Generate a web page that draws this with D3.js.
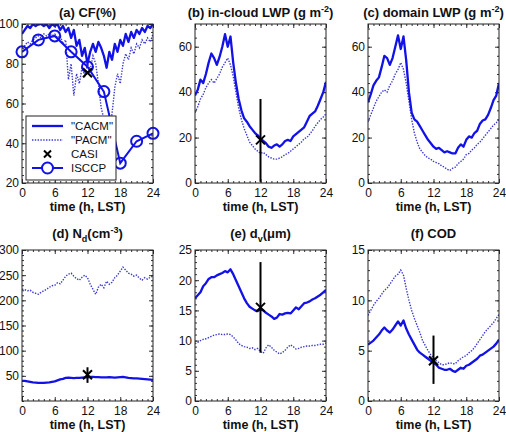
<!DOCTYPE html>
<html>
<head>
<meta charset="utf-8">
<script src="https://cdn.jsdelivr.net/npm/d3@7"></script>
<style>
  body { margin: 0; background: #fff; }
  svg text { font-family: Arial, "Liberation Sans", sans-serif; fill: #111; }
</style>
</head>
<body>
<svg id="chart" width="506" height="432"></svg>
<script>
"use strict";

// time axis (h, LST), every half hour
const hours = [0,0.5,1,1.5,2,2.5,3,3.5,4,4.5,5,5.5,6,6.5,7,7.5,8,8.5,9,9.5,10,10.5,11,11.5,12,
               12.5,13,13.5,14,14.5,15,15.5,16,16.5,17,17.5,18,18.5,19,19.5,20,20.5,21,21.5,22,22.5,23,23.5,24];
const xTicks = [0, 6, 12, 18, 24];

// (a) CF (%)
const cfCACM = [95,97,99,98,100,99,100,100,99,100,98,100,99,100,97,99,96,98,93,97,89,92,84,88,80,
                86,90,86,91,88,84,78,86,82,90,86,92,89,95,91,96,93,97,95,98,96,99,98,100];
const cfPACM = [88,89,91,90,92,93,94,93,95,94,95,94,95,93,94,90,92,72,80,64,75,70,78,74,80,
                77,84,80,70,58,52,48,45,55,68,75,70,80,85,82,88,85,90,88,92,90,93,91,95];
const isccpHours = [0, 3, 6, 9, 12, 15, 18, 21, 24];
const cfISCCP = [86, 92, 94, 86, 78.5, 66, 30, 41, 45];

// (b) in-cloud LWP (g m-2)
const lwpCACM = [38.5,41,45.5,44,48,53,57,55,52,55.5,60,65.5,60,64.5,53,44,37,32,28.5,27,25,23.5,22,21,19.5,
                 18.5,17.5,16,15.5,16.5,17,16,17,18.5,19,18.5,20.5,21.5,22.5,23.5,24.5,27,29.5,30.5,31.5,34,37,40,44.5];
const lwpPACM = [31,33.5,37,39,42,44,45.5,44,46,48,51,53,55,52,47,40,33,28,24,21,18,16.5,15,14,13,
                 13.5,12.5,11.5,11,10.5,10.5,11,11.5,12.5,13,14,15,16,17,18,19.5,20,21.5,23,25,26.5,28,29,30.5];

// (c) domain LWP (g m-2)
const dlwpCACM = [35.5,39,43,45,46.5,51,56,55,52,55,60,65,59,64.5,54,40,31,28,27,25,23,21,19,17.5,16,
                  15,15.5,14.5,13.5,14,13.5,13,13,15.5,17,16,19,20.5,20,22,23,26,27.5,28,30,33,36.5,38.5,44];
const dlwpPACM = [27,30,33,36,38,40,41,40,43,45,48,50,53,50,44,36,28,22,18,15,13.5,12,11,10.5,9.5,
                  9,8.5,7.5,7,6,5.5,6.5,7,8.5,9.5,10.5,12.5,13,14.5,15.5,17,18,19.5,21,22.5,24,25.5,26.5,28];

// (d) Nd (cm-3)
const ndCACM = [40,40,39,38,37,36.5,36,36,36,36.5,37,38,39,41,43,44,46,46.5,46,45.5,46,46,46.5,47,47,
                48,48,47.5,47.5,47,47,47,47.5,47,46.5,47,47.5,48,47,46,45.5,45,45,44.5,44,43.5,43,42.5,42];
const ndPACM = [222,221,219,220,216,214,212,216,219,222,226,229,230,235,233,240,248,252,254,248,243,240,246,250,245,
                232,222,212,226,232,225,238,232,236,245,250,258,266,260,254,252,248,250,244,240,245,242,246,248];

// (e) dv (um)
const dvCACM = [17,17.5,18,19,19.5,20.2,20.5,20.5,20.8,21,21.2,21.5,21.3,21.8,21,20,19,18,17,16.2,15.6,15.3,15,14.9,15.2,
                15,14.6,14.3,14,13.6,13.8,14.4,14.3,14.5,14.6,14.5,15,15.5,15.2,15.7,16.2,16.3,16.5,16.8,17,17.3,17.6,18,18.4];
const dvPACM = [9.5,9.7,10,10.2,10.3,10.5,10.7,10.9,11,11.1,11,11,11.1,11,10.6,10.1,9.5,9.2,9,8.9,8.7,8.8,8.5,8.7,8.2,
                7.9,8.8,9.3,8.9,8.4,8.1,7.8,8,8.4,8.9,9.3,9,8.6,8.7,8.9,9,9.1,9.1,9.2,9.2,9.3,9.4,9.4,9.6];

// (f) COD
const codCACM = [5.6,5.8,6,6.3,6.6,7,7.3,7,6.8,7.1,7.5,7.9,7.5,8,7.2,6.6,6.1,5.6,5.1,4.8,4.6,4.4,4.2,4,3.8,
                 3.6,3.3,3.2,3.1,3.1,3.2,3,2.9,3.1,3.3,3.2,3.5,3.6,3.8,4,4.2,4.5,4.6,4.8,5,5.2,5.4,5.7,6.1];
const codPACM = [8.5,9,9.5,9.9,10.2,10.6,11,11.2,11.6,12,12.4,12.6,13,12.5,11.2,10,9,8.2,7.5,6.8,6,5.5,5,4.6,4.3,
                 4,3.8,3.6,3.6,3.7,3.8,3.7,3.7,4,4.2,4.4,4.5,4.8,5,5.3,5.7,6.1,6.5,6.9,7.2,7.5,7.8,8.2,8.6];

// CASI observations at noon: value, error bar low / high (null = none)
const casiHour = 12;
const casiCF = [75.5, null, null];
const casiLWP = [19, 0.5, 37];
const casiNd = [52, 36, 67];
const casiDv = [15.5, 8, 23];
const casiCOD = [4, 1.7, 6.5];



// panel layout
const cols = [[22, 153], [195, 326], [368, 499]];
const rows = [[24, 183], [250, 401]];
const blue = "#1212e6", dotBlue = "#3a3ad0";

const panels = [
    {col: 0, row: 0, title: ["(a) CF(%)"], y: [20, 100], yTicks: [20, 40, 60, 80, 100], cacm: cfCACM, pacm: cfPACM, casi: casiCF, isccp: true},
    {col: 1, row: 0, title: ["(b) in-cloud LWP (g m", "-2", ")"], y: [0, 70], yTicks: [0, 20, 40, 60], cacm: lwpCACM, pacm: lwpPACM, casi: casiLWP},
    {col: 2, row: 0, title: ["(c) domain LWP (g m", "-2", ")"], y: [0, 70], yTicks: [0, 20, 40, 60], cacm: dlwpCACM, pacm: dlwpPACM, casi: null},
    {col: 0, row: 1, title: ["(d) N", "d", "(cm", "-3", ")"], sub: true, y: [0, 300], yTicks: [50, 100, 150, 200, 250, 300], cacm: ndCACM, pacm: ndPACM, casi: casiNd},
    {col: 1, row: 1, title: ["(e) d", "v", "(\u03bcm)"], sub: true, y: [0, 25], yTicks: [0, 5, 10, 15, 20, 25], cacm: dvCACM, pacm: dvPACM, casi: casiDv},
    {col: 2, row: 1, title: ["(f) COD"], y: [0, 15], yTicks: [0, 5, 10, 15], cacm: codCACM, pacm: codPACM, casi: casiCOD}
];

const svg = d3.select("#chart");

panels.forEach(p => drawPanel(p));



function drawPanel(p) {
    const [x0, x1] = cols[p.col];
    const [y0, y1] = rows[p.row];

    const scaleX = d3.scaleLinear().domain([0, 24]).range([x0, x1]);
    const scaleY = d3.scaleLinear().domain(p.y).range([y1, y0]);

    const g = svg.append("g").attr("class", "panel");

    // clip for the series
    const clipId = "clip" + p.col + p.row;
    g.append("clipPath").attr("id", clipId)
    .append("rect").attr("x", x0).attr("y", y0).attr("width", x1 - x0).attr("height", y1 - y0);

    // axes, ticks inside on all sides
    const minorX = d3.range(0, 25, 1);
    const yStep = p.yTicks[1] - p.yTicks[0];
    const minorY = d3.range(p.y[0], p.y[1] + 1e-9, yStep / 5);

    g.append("g").attr("transform", `translate(0,${y1})`)
    .call(d3.axisBottom(scaleX).tickValues(minorX).tickSize(-2).tickFormat(""))
    .call(a => a.select(".domain").remove());
    g.append("g").attr("transform", `translate(0,${y0})`)
    .call(d3.axisTop(scaleX).tickValues(minorX).tickSize(-2).tickFormat(""))
    .call(a => a.select(".domain").remove());
    g.append("g").attr("transform", `translate(${x0},0)`)
    .call(d3.axisLeft(scaleY).tickValues(minorY).tickSize(-2).tickFormat(""))
    .call(a => a.select(".domain").remove());
    g.append("g").attr("transform", `translate(${x1},0)`)
    .call(d3.axisRight(scaleY).tickValues(minorY).tickSize(-2).tickFormat(""))
    .call(a => a.select(".domain").remove());

    // major ticks + labels
    const xAxis = g.append("g").attr("transform", `translate(0,${y1})`)
    .call(d3.axisBottom(scaleX).tickValues(xTicks).tickSize(-4).tickPadding(5));
    xAxis.select(".domain").remove();
    const yAxis = g.append("g").attr("transform", `translate(${x0},0)`)
    .call(d3.axisLeft(scaleY).tickValues(p.yTicks).tickSize(-4).tickPadding(3));
    yAxis.select(".domain").remove();
    g.append("g").attr("transform", `translate(0,${y0})`)
    .call(d3.axisTop(scaleX).tickValues(xTicks).tickSize(-4).tickFormat(""))
    .call(a => a.select(".domain").remove());
    g.append("g").attr("transform", `translate(${x1},0)`)
    .call(d3.axisRight(scaleY).tickValues(p.yTicks).tickSize(-4).tickFormat(""))
    .call(a => a.select(".domain").remove());

    g.selectAll(".tick text").attr("font-size", 12).attr("font-family", "Arial, 'Liberation Sans', sans-serif").attr("fill", "#111");
    g.selectAll(".tick line").attr("stroke", "#333");

    // series
    const line = d3.line().x((d, i) => scaleX(hours[i])).y(d => scaleY(d));
    const series = g.append("g").attr("clip-path", `url(#${clipId})`);
    series.append("path").datum(p.pacm)
    .attr("d", line).attr("fill", "none").attr("stroke", dotBlue)
    .attr("stroke-width", 1.4).attr("stroke-dasharray", "1.4,1.4");
    series.append("path").datum(p.cacm)
    .attr("d", line).attr("fill", "none").attr("stroke", blue)
    .attr("stroke-width", 2.3).attr("stroke-linejoin", "round");

    // ISCCP
    if (p.isccp) {
        const lineI = d3.line().x((d, i) => scaleX(isccpHours[i])).y(d => scaleY(d));
        series.append("path").datum(cfISCCP)
        .attr("d", lineI).attr("fill", "none").attr("stroke", blue).attr("stroke-width", 2);
        g.selectAll("circle.isccp").data(cfISCCP).enter().append("circle")
        .attr("class", "isccp")
        .attr("cx", (d, i) => scaleX(isccpHours[i])).attr("cy", d => scaleY(d))
        .attr("r", 5.5).attr("fill", "none").attr("stroke", blue).attr("stroke-width", 2);
    }

    // CASI
    if (p.casi) {
        const cx = scaleX(casiHour), cy = scaleY(p.casi[0]);
        if (p.casi[1] != null) {
            g.append("line").attr("x1", cx).attr("x2", cx)
            .attr("y1", scaleY(p.casi[1])).attr("y2", scaleY(p.casi[2]))
            .attr("stroke", "#000").attr("stroke-width", 2);
        }
        drawCross(g, cx, cy, 4.5);
    }

    // frame
    g.append("rect").attr("x", x0).attr("y", y0).attr("width", x1 - x0).attr("height", y1 - y0)
    .attr("fill", "none").attr("stroke", "#222").attr("stroke-width", 1);

    // title
    const cxT = (x0 + x1) / 2;
    const title = g.append("text").attr("x", cxT).attr("y", y0 - (p.row == 0 ? 7 : 12))
    .attr("text-anchor", "middle").attr("font-size", 13).attr("font-weight", "bold");
    p.title.forEach((t, i) => {
        const ts = title.append("tspan").text(t);
        if (i % 2 == 1) {
            const isSub = p.sub && i == 1;
            ts.attr("font-size", 9).attr("dy", isSub ? 4 : -5);
        } else if (i > 0) {
            const prevSub = p.sub && i == 2;
            ts.attr("dy", prevSub ? -4 : 5);
        }
    });

    // x label
    g.append("text").attr("x", cxT).attr("y", y1 + 28)
    .attr("text-anchor", "middle").attr("font-size", 12.5).attr("font-weight", "bold")
    .text("time (h, LST)");

    if (p.isccp) drawLegend(g);
}



function drawCross(g, cx, cy, r) {
    g.append("path")
    .attr("d", `M${cx - r},${cy - r}L${cx + r},${cy + r}M${cx - r},${cy + r}L${cx + r},${cy - r}`)
    .attr("stroke", "#000").attr("stroke-width", 2).attr("fill", "none");
}



function drawLegend(g) {
    const lx = 26, ly = 116, lw = 90, lh = 64;
    g.append("rect").attr("x", lx).attr("y", ly).attr("width", lw).attr("height", lh)
    .attr("fill", "#fff").attr("stroke", "#222").attr("stroke-width", 1);

    const items = ["\"CACM\"", "\"PACM\"", "CASI", "ISCCP"];
    const rowY = [126, 140, 154, 168];
    const sx0 = 32, sx1 = 63;

    items.forEach((label, i) => {
        const y = rowY[i];
        if (i == 0) {
            g.append("line").attr("x1", sx0).attr("x2", sx1).attr("y1", y).attr("y2", y)
            .attr("stroke", blue).attr("stroke-width", 2.3);
        } else if (i == 1) {
            g.append("line").attr("x1", sx0).attr("x2", sx1).attr("y1", y).attr("y2", y)
            .attr("stroke", dotBlue).attr("stroke-width", 1.4).attr("stroke-dasharray", "1.4,1.4");
        } else if (i == 2) {
            drawCross(g, (sx0 + sx1) / 2, y, 3.5);
        } else {
            g.append("line").attr("x1", sx0).attr("x2", sx1).attr("y1", y).attr("y2", y)
            .attr("stroke", blue).attr("stroke-width", 2);
            g.append("circle").attr("cx", (sx0 + sx1) / 2).attr("cy", y).attr("r", 5.5)
            .attr("fill", "#fff").attr("stroke", blue).attr("stroke-width", 2);
        }
        g.append("text").attr("x", 71).attr("y", y + 4)
        .attr("font-size", 11.5).text(label);
    });
}
</script>
</body>
</html>
